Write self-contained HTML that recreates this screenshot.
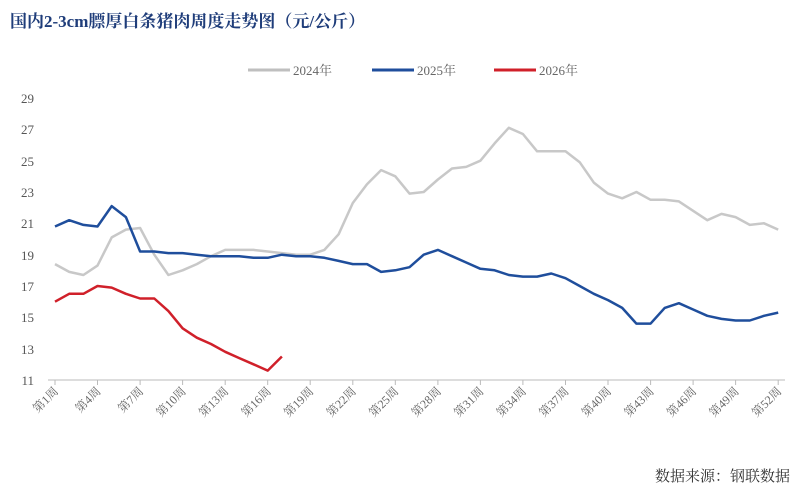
<!DOCTYPE html>
<html><head><meta charset="utf-8"><style>
body{margin:0;background:#fff;}
svg text{font-family:"Liberation Serif","Noto Serif CJK SC",serif;}
</style></head><body>
<svg width="800" height="493" viewBox="0 0 800 493" xmlns="http://www.w3.org/2000/svg">
<text x="10" y="27" font-size="17" font-weight="bold" fill="#1f3d7a">国内2-3cm膘厚白条猪肉周度走势图（元/公斤）</text>
<g font-size="13" fill="#666">
<line x1="248" y1="70" x2="290" y2="70" stroke="#bfbfbf" stroke-width="3"/><text x="293" y="75">2024年</text>
<line x1="372" y1="70" x2="414" y2="70" stroke="#1f4e9c" stroke-width="3"/><text x="417" y="75">2025年</text>
<line x1="494" y1="70" x2="536" y2="70" stroke="#d0202a" stroke-width="3"/><text x="539" y="75">2026年</text>
</g>
<g font-size="13" fill="#555" text-anchor="end">
<text x="34" y="385">11</text><text x="34" y="354">13</text><text x="34" y="322">15</text><text x="34" y="291">17</text><text x="34" y="260">19</text><text x="34" y="228">21</text><text x="34" y="197">23</text><text x="34" y="166">25</text><text x="34" y="134">27</text><text x="34" y="103">29</text>
</g>
<line x1="48" y1="380" x2="785" y2="380" stroke="#bbb"/>
<g font-size="12" fill="#666" text-anchor="end" stroke="none">
<text x="59" y="392" transform="rotate(-45 59 392)">第1周</text>
<text x="101.5" y="392" transform="rotate(-45 101.5 392)">第4周</text>
<text x="144.1" y="392" transform="rotate(-45 144.1 392)">第7周</text>
<text x="186.6" y="392" transform="rotate(-45 186.6 392)">第10周</text>
<text x="229.2" y="392" transform="rotate(-45 229.2 392)">第13周</text>
<text x="271.7" y="392" transform="rotate(-45 271.7 392)">第16周</text>
<text x="314.2" y="392" transform="rotate(-45 314.2 392)">第19周</text>
<text x="356.8" y="392" transform="rotate(-45 356.8 392)">第22周</text>
<text x="399.3" y="392" transform="rotate(-45 399.3 392)">第25周</text>
<text x="441.9" y="392" transform="rotate(-45 441.9 392)">第28周</text>
<text x="484.4" y="392" transform="rotate(-45 484.4 392)">第31周</text>
<text x="526.9" y="392" transform="rotate(-45 526.9 392)">第34周</text>
<text x="569.5" y="392" transform="rotate(-45 569.5 392)">第37周</text>
<text x="612" y="392" transform="rotate(-45 612 392)">第40周</text>
<text x="654.6" y="392" transform="rotate(-45 654.6 392)">第43周</text>
<text x="697.1" y="392" transform="rotate(-45 697.1 392)">第46周</text>
<text x="739.6" y="392" transform="rotate(-45 739.6 392)">第49周</text>
<text x="782.2" y="392" transform="rotate(-45 782.2 392)">第52周</text>
</g>
<g stroke="#bbb">
<line x1="55" y1="380" x2="55" y2="385"/><line x1="97.5" y1="380" x2="97.5" y2="385"/><line x1="140.1" y1="380" x2="140.1" y2="385"/><line x1="182.6" y1="380" x2="182.6" y2="385"/><line x1="225.2" y1="380" x2="225.2" y2="385"/><line x1="267.7" y1="380" x2="267.7" y2="385"/><line x1="310.2" y1="380" x2="310.2" y2="385"/><line x1="352.8" y1="380" x2="352.8" y2="385"/><line x1="395.3" y1="380" x2="395.3" y2="385"/><line x1="437.9" y1="380" x2="437.9" y2="385"/><line x1="480.4" y1="380" x2="480.4" y2="385"/><line x1="522.9" y1="380" x2="522.9" y2="385"/><line x1="565.5" y1="380" x2="565.5" y2="385"/><line x1="608" y1="380" x2="608" y2="385"/><line x1="650.6" y1="380" x2="650.6" y2="385"/><line x1="693.1" y1="380" x2="693.1" y2="385"/><line x1="735.6" y1="380" x2="735.6" y2="385"/><line x1="778.2" y1="380" x2="778.2" y2="385"/>
</g>
<g fill="none" stroke-width="2.5" stroke-linejoin="round">
<polyline stroke="#c8c8c8" points="55,264.1 69.2,271.9 83.4,275 97.5,265.6 111.7,237.4 125.9,229.6 140.1,228 154.3,254.7 168.4,275 182.6,270.3 196.8,264.1 211,256.2 225.2,249.9 239.3,249.9 253.5,249.9 267.7,251.5 281.9,253.1 296.1,254.7 310.2,254.7 324.4,249.9 338.6,234.3 352.8,203 367,184.2 381.1,170.1 395.3,176.3 409.5,193.6 423.7,192 437.9,179.5 452,168.5 466.2,166.9 480.4,160.7 494.6,143.4 508.8,127.8 522.9,134 537.1,151.3 551.3,151.3 565.5,151.3 579.7,162.2 593.8,182.6 608,193.6 622.2,198.3 636.4,192 650.6,199.8 664.7,199.8 678.9,201.4 693.1,210.8 707.3,220.2 721.5,213.9 735.6,217.1 749.8,224.9 764,223.3 778.2,229.6"/>
<polyline stroke="#1f4e9c" points="55,226.5 69.2,220.2 83.4,224.9 97.5,226.5 111.7,206.1 125.9,217.1 140.1,251.5 154.3,251.5 168.4,253.1 182.6,253.1 196.8,254.7 211,256.2 225.2,256.2 239.3,256.2 253.5,257.8 267.7,257.8 281.9,254.7 296.1,256.2 310.2,256.2 324.4,257.8 338.6,260.9 352.8,264.1 367,264.1 381.1,271.9 395.3,270.3 409.5,267.2 423.7,254.7 437.9,249.9 452,256.2 466.2,262.5 480.4,268.8 494.6,270.3 508.8,275 522.9,276.6 537.1,276.6 551.3,273.5 565.5,278.2 579.7,286 593.8,293.8 608,300.1 622.2,307.9 636.4,323.6 650.6,323.6 664.7,307.9 678.9,303.2 693.1,309.5 707.3,315.8 721.5,318.9 735.6,320.5 749.8,320.5 764,315.8 778.2,312.6"/>
<polyline stroke="#d0202a" points="55,301.7 69.2,293.8 83.4,293.8 97.5,286 111.7,287.6 125.9,293.8 140.1,298.5 154.3,298.5 168.4,311.1 182.6,328.3 196.8,337.7 211,344 225.2,351.8 239.3,358.1 253.5,364.3 267.7,370.6 281.9,356.5"/>
</g>
<text x="790" y="481" font-size="15" text-anchor="end" fill="#333">数据来源：钢联数据</text>
</svg>
</body></html>
